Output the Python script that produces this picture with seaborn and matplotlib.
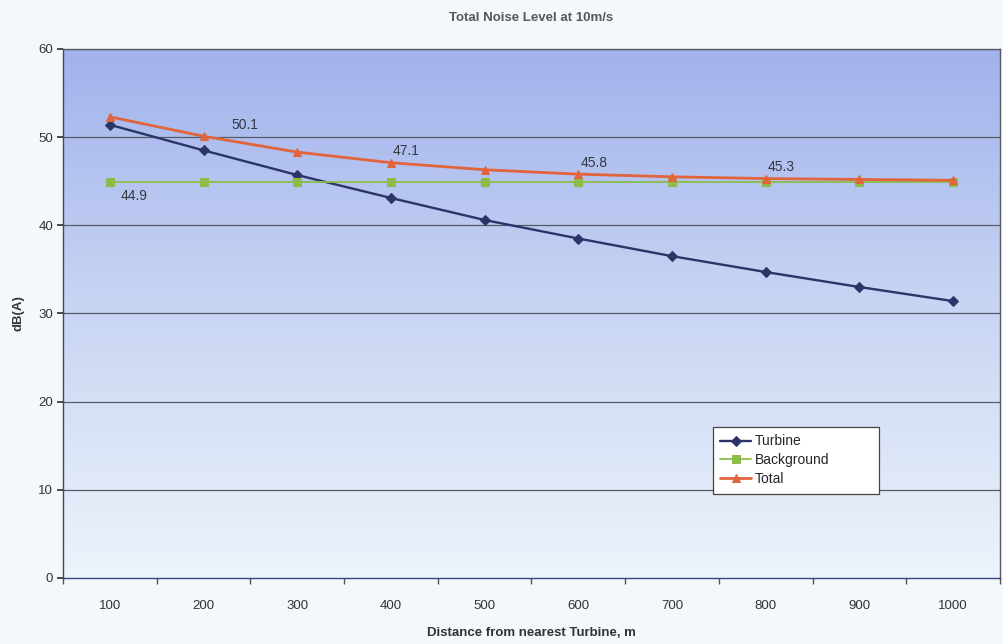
import numpy as np
import pandas as pd
import matplotlib
matplotlib.use("Agg")
import matplotlib.pyplot as plt
from matplotlib.colors import LinearSegmentedColormap
import seaborn as sns

# Noise levels, dB(A), by distance from the nearest turbine
distance = [100, 200, 300, 400, 500, 600, 700, 800, 900, 1000]
turbine = [51.4, 48.5, 45.7, 43.1, 40.6, 38.5, 36.5, 34.7, 33.0, 31.4]
background = [44.9, 44.9, 44.9, 44.9, 44.9, 44.9, 44.9, 44.9, 44.9, 44.9]
total = [52.3, 50.1, 48.3, 47.1, 46.3, 45.8, 45.5, 45.3, 45.2, 45.1]

series_names = ["Turbine", "Background", "Total"]
series_colors = ["#2b3568", "#8cbd4a", "#e2643c"]
series_markers = ["D", "s", "^"]
series_widths = [1.7, 1.3, 2.0]
series_msizes = [5.0, 5.5, 6.0]

# indices of annotated points
background_labels = [0]
total_labels = [1, 3, 5, 7]

df = pd.DataFrame({
    "Distance": distance,
    "Turbine": turbine,
    "Background": background,
    "Total": total,
})

sns.set_theme(style="white")
plt.rcParams["font.family"] = ["Liberation Sans", "DejaVu Sans"]

fig = plt.figure(figsize=(10.04, 6.44), dpi=100, facecolor="#f3f8fa")
ax = fig.add_axes([0.0627, 0.1025, 0.9333, 0.8215])

# plot-area gradient: blue at the top fading to near-white at the bottom
grad = LinearSegmentedColormap.from_list("bg", ["#eef4fb", "#c9d6f3", "#a1b2ec"])
ax.imshow(np.linspace(0, 1, 256).reshape(-1, 1), cmap=grad, aspect="auto",
          extent=[50, 1050, 0, 60], origin="lower", zorder=0)

for y in range(10, 61, 10):
    ax.axhline(y, color="#555a66", lw=0.9, zorder=1)

for name, c, m, w, ms in zip(series_names, series_colors, series_markers,
                             series_widths, series_msizes):
    sns.lineplot(data=df, x="Distance", y=name, color=c, marker=m, markersize=ms,
                 markeredgecolor=c, markerfacecolor=c, linewidth=w, label=name,
                 ax=ax, zorder=3)

for i in background_labels:
    ax.text(distance[i] + 12, background[i] - 0.8, f"{background[i]:.1f}",
            fontsize=10, color="#333840", ha="left", va="top", zorder=4)
for i in total_labels:
    ax.text(distance[i] + (30 if i == 1 else 2), total[i] + 0.5, f"{total[i]:.1f}",
            fontsize=10, color="#333840", ha="left", va="bottom", zorder=4)

ax.set_xlim(50, 1050)
ax.set_ylim(0, 60)
ax.set_xticks(distance)
ax.set_xticks(np.arange(50, 1051, 100), minor=True)
ax.set_yticks(range(0, 61, 10))
ax.tick_params(axis="x", which="major", length=0, pad=16, labelsize=9.5, colors="#333333")
ax.tick_params(axis="x", which="minor", length=4, direction="out", color="#555555", bottom=True)
ax.tick_params(axis="y", length=4, direction="out", left=True, labelsize=9.5, colors="#333333", pad=3)

for s in ax.spines.values():
    s.set_color("#555a66")
    s.set_linewidth(1.0)
ax.spines["left"].set_color("#3a4680")
ax.spines["bottom"].set_color("#3a4680")

ax.set_xlabel("Distance from nearest Turbine, m", fontsize=9.5, fontweight="bold",
              color="#333333", labelpad=11)
ax.set_ylabel("dB(A)", fontsize=9.5, fontweight="bold", color="#333333", labelpad=10)
ax.set_title("Total Noise Level at 10m/s", fontsize=9.5, fontweight="bold",
             color="#555860", pad=20)

leg = ax.legend(loc="upper left", bbox_to_anchor=(0.686, 0.166, 0.192, 0.133),
                mode="expand", frameon=True, fancybox=False, fontsize=10,
                handlelength=2.2, handletextpad=0.3, borderpad=0.55, labelspacing=0.35)
leg.get_frame().set_edgecolor("#444444")
leg.get_frame().set_facecolor("white")
leg.get_frame().set_alpha(1)
leg.get_frame().set_linewidth(0.9)
leg.set_zorder(5)

fig.savefig("out.png", dpi=100, facecolor=fig.get_facecolor())
